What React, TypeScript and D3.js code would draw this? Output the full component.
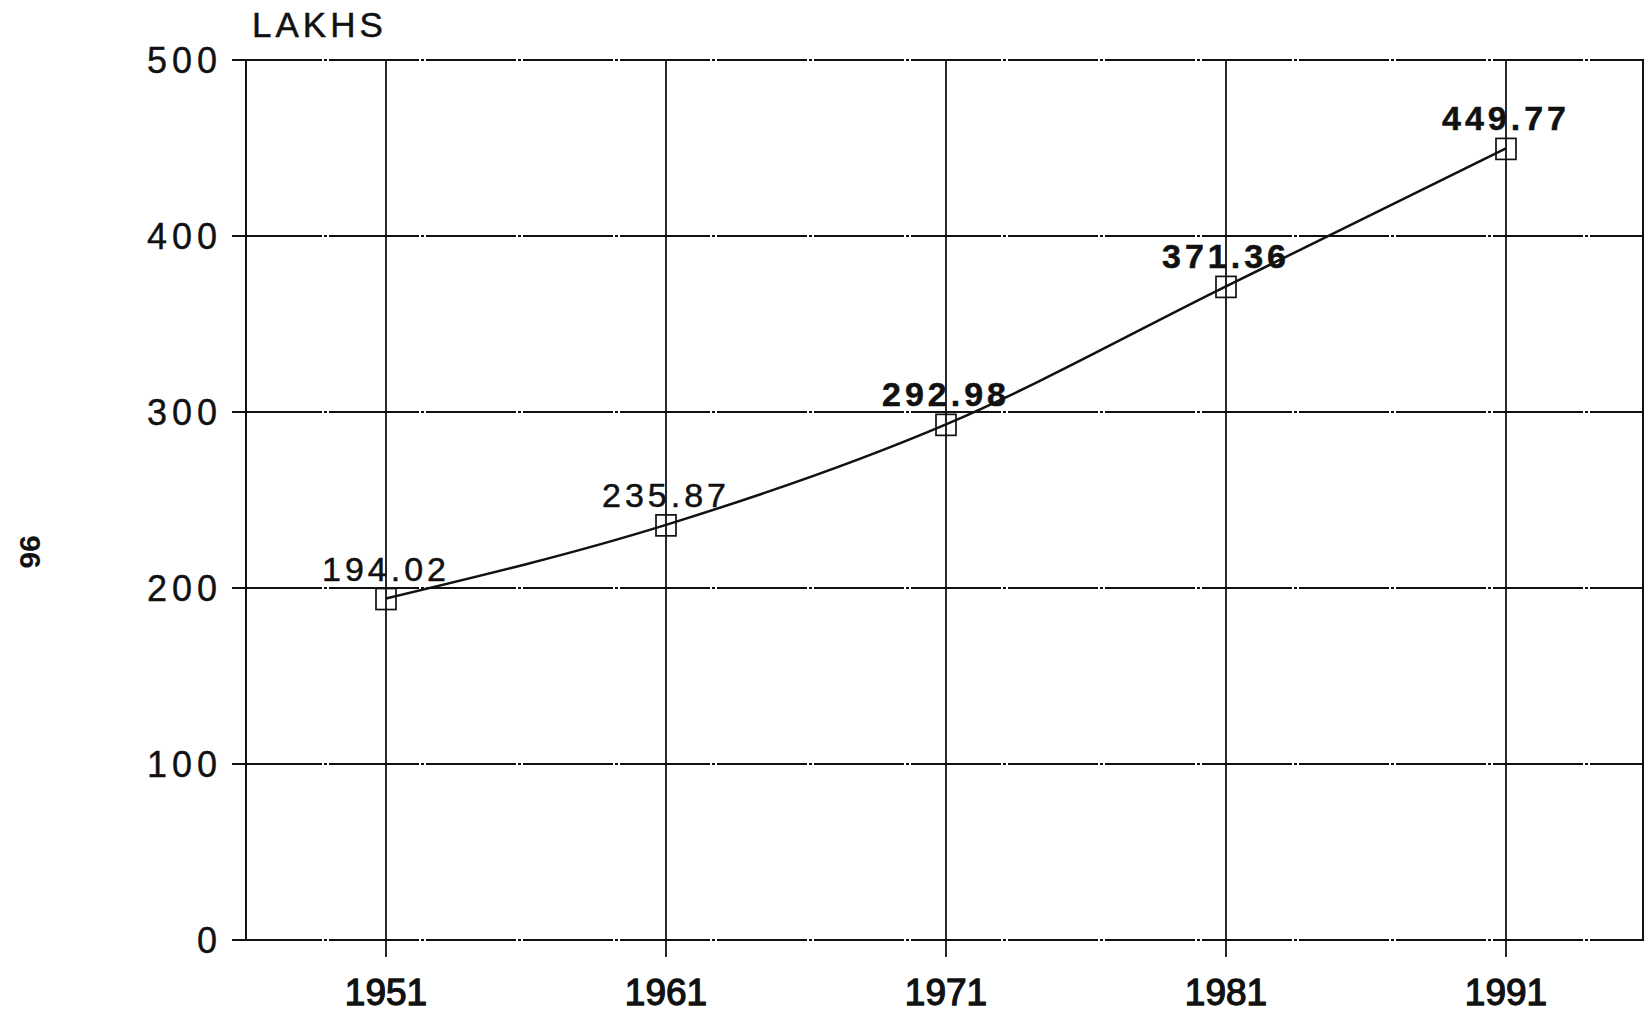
import React from "react";
import * as d3 from "d3";

const years = [1951, 1961, 1971, 1981, 1991];
const population = [194.02, 235.87, 292.98, 371.36, 449.77];
const valueLabels = ["194.02", "235.87", "292.98", "371.36", "449.77"];
const yTicks = [0, 100, 200, 300, 400, 500];
const unitLabel = "LAKHS";
const pageMark = "96";

const labelWeights = ["normal", "normal", "bold", "bold", "bold"];

export default function App() {
  const W = 1644;
  const H = 1016;
  const x = d3.scaleLinear().domain([1946, 1996]).range([246, 1646]);
  const y = d3.scaleLinear().domain([0, 500]).range([940, 60]);
  const font = "'Liberation Sans', Arial, Helvetica, sans-serif";

  const pts: [number, number][] = years.map((yr, i) => [x(yr), y(population[i])]);
  const line = d3
    .line<[number, number]>()
    .x((d) => d[0])
    .y((d) => d[1])
    .curve(d3.curveMonotoneX);

  const left = x(1946);
  const right = x(1996);
  const top = y(500);
  const bottom = y(0);

  return (
    <svg
      width={W}
      height={H}
      style={{ position: "absolute", left: 0, top: 0, background: "#fff" }}
      fontFamily={font}
    >
      <rect x={0} y={0} width={W} height={H} fill="#fff" />
      {/* horizontal grid lines */}
      {yTicks.map((t) => (
        <line
          key={"h" + t}
          x1={left - 14}
          x2={right}
          y1={y(t)}
          y2={y(t)}
          stroke="#111"
          strokeWidth={1.8}
          strokeDasharray="90 2 3 2"
        />
      ))}
      {/* vertical grid lines */}
      {years.map((yr) => (
        <line
          key={"v" + yr}
          x1={x(yr)}
          x2={x(yr)}
          y1={top}
          y2={bottom + 17}
          stroke="#111"
          strokeWidth={1.8}
        />
      ))}
      {/* axes frame */}
      <line x1={left} x2={left} y1={top} y2={bottom} stroke="#111" strokeWidth={2} />
      <line x1={right - 3} x2={right - 3} y1={top} y2={bottom} stroke="#111" strokeWidth={2} />

      {/* y tick labels */}
      {yTicks.map((t) => (
        <text
          key={"yl" + t}
          x={222}
          y={y(t)}
          textAnchor="end"
          dominantBaseline="central"
          fontSize={36}
          letterSpacing={5}
          fill="#111"
          stroke="#111"
          strokeWidth={0.4}
        >
          {t}
        </text>
      ))}

      {/* x tick labels */}
      {years.map((yr) => (
        <text
          key={"xl" + yr}
          x={x(yr)}
          y={1005}
          textAnchor="middle"
          fontSize={37}
          fill="#111"
          stroke="#111"
          strokeWidth={1.3}
        >
          {yr}
        </text>
      ))}

      {/* unit label */}
      <text x={252} y={37} fontSize={35} letterSpacing={4} fill="#111" stroke="#111" strokeWidth={0.5}>
        {unitLabel}
      </text>

      {/* page mark */}
      <text
        x={0}
        y={0}
        transform="translate(20,552) rotate(90)"
        textAnchor="middle"
        fontSize={30}
        fontWeight="bold"
        fill="#111"
      >
        {pageMark}
      </text>

      {/* series line */}
      <path d={line(pts) || ""} fill="none" stroke="#111" strokeWidth={2.5} />

      {/* markers */}
      {pts.map((p, i) => (
        <rect
          key={"m" + i}
          x={p[0] - 10}
          y={p[1] - 10}
          width={20}
          height={21}
          fill="none"
          stroke="#111"
          strokeWidth={1.7}
        />
      ))}

      {/* value labels */}
      {pts.map((p, i) => (
        <text
          key={"vl" + i}
          x={p[0]}
          y={p[1] - 18}
          textAnchor="middle"
          fontSize={34}
          letterSpacing={4}
          fontWeight={labelWeights[i]}
          fill="#111"
          stroke="#111"
          strokeWidth={0.5}
        >
          {valueLabels[i]}
        </text>
      ))}
    </svg>
  );
}
